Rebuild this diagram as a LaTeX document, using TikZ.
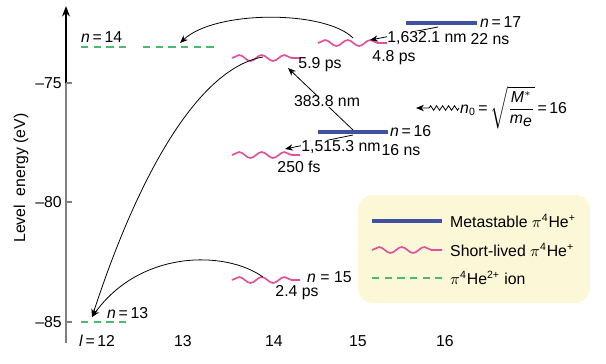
\documentclass[tikz,border=0pt]{standalone}
\usepackage{fontspec}
\setmainfont{Liberation Sans}
\usetikzlibrary{arrows.meta,decorations.pathmorphing}

\definecolor{metablue}{HTML}{3F51A0}
\definecolor{shortpink}{HTML}{E2509B}
\definecolor{iongreen}{HTML}{4DB870}
\definecolor{legendbg}{HTML}{FCF7D6}

\begin{document}
\begin{tikzpicture}[x=0.02cm, y=-0.02cm, font=\fontsize{9}{10}\selectfont,
    meta/.style = {metablue, line width=2.1pt},
    short/.style = {shortpink, line width=0.95pt, decorate,
        decoration={snake, segment length=12.9pt, amplitude=1.7pt}},
    ion/.style = {iongreen, line width=1.1pt, dash pattern=on 4.2pt off 3pt},
    trans/.style = {line width=0.45pt, -{Stealth[length=4.5pt, width=3.6pt]}},
    lbl/.style = {inner sep=0.5pt},
    nm/.style = {fill=white, inner sep=0.2pt}]

            \useasboundingbox (0,0) rectangle (606,363);

            % Axis
            \draw[gray, line width=0.6pt] (66,343) -- (66,83);
            \draw[line width=0.6pt, -{Stealth[length=6pt, width=4.5pt]}] (66,83) -- (66,6);
            \foreach \y/\e in {83/75, 202/80, 322/85} {
                \draw[gray, line width=0.6pt] (66,\y) -- (72,\y);
                \node[lbl, anchor=east] (t\e) at (63,\y) {--\e};
            }
            \node[rotate=90] (ylab) at (21,178) {Level\ \ energy (eV)};
            \node (l12) at (97,341) {\textit{l}\,=\,12};
            \node (l13) at (183,341) {13};
            \node (l14) at (274,341) {14};
            \node (l15) at (358,341) {15};
            \node (l16) at (445,341) {16};

            % Levels
            \draw[ion] (81,322) -- (126,322);
            \draw[ion] (81,47) -- (126,47);
            \draw[ion] (143,47) -- (215,47);
            \draw[short] (232,280) -- (300,280);
            \draw[short] (232,155) -- (300,155);
            \draw[short] (232,58) -- (300,58);
            \draw[short] (318,43) -- (388,43);
            \draw[meta] (318,132) -- (388,132);
            \draw[meta] (406,23) -- (477,23);

            % Level labels
            \node[lbl, anchor=west] (n13) at (106,313) {\textit{n}\,=\,13};
            \node[lbl, anchor=west] (n14) at (80,37) {\textit{n}\,=\,14};
            \node[lbl, anchor=west] (n15) at (306,277) {\textit{n} = 15};
            \node[lbl, anchor=west] (n16) at (389,131) {\textit{n}\,=\,16};
            \node[lbl, anchor=west] (n17) at (479,22) {\textit{n}\,=\,17};
            \node[lbl] (tau15) at (297,293) {2.4 ps};
            \node[lbl] (tau16a) at (299,167) {250 fs};
            \node[lbl] (tau16b) at (401,150) {16 ns};
            \node[lbl] (tau17a) at (320,65) {5.9 ps};
            \node[lbl] (tau17b) at (394,58) {4.8 ps};
            \node[lbl] (tau17c) at (490,39) {22 ns};

            % End points on the levels
            \coordinate (I13) at (92,317);
            \coordinate (I14) at (180,43);
            \coordinate (S15) at (263,277);
            \coordinate (S16) at (285,149);
            \coordinate (S17a) at (263,57);
            \coordinate (S17at) at (288,68);
            \coordinate (S17b) at (353,38);
            \coordinate (S17bt) at (370,40);
            \coordinate (M16) at (353,135);
            \coordinate (M16t) at (353,130);
            \coordinate (M17) at (438,27);
            \coordinate (N0) at (416,108);

            % Transitions
            \draw[trans] (S17b) .. controls (325,10) and (215,10) .. (I14);
            \draw[trans] (S17a) .. controls (200,68) and (140,170) .. (I13);
            \draw[trans] (S15) .. controls (225,250) and (140,250) .. (I13);
            \draw[trans] (M16t) -- (S17at);
            \draw[trans] (M16) -- (S16);
            \draw[trans] (M17) -- (S17bt);
            \node[nm] (w384) at (327,101) {383.8 nm};
            \node[nm] (w1515) at (341,147) {1,515.3 nm};
            \node[nm] (w1632) at (427,38) {1,632.1 nm};

            % n_0
            \node[lbl, anchor=west] (nzero) at (459,108)
                {\textit{n}\textsubscript{0}\,=\,$\sqrt{\displaystyle\frac{\textit{M}^{*}}{\textit{m}_{\textit{e}}}}$\,=\,16};
            \draw[line width=0.45pt, -{Stealth[length=4.5pt, width=3.6pt]}, decorate,
                decoration={zigzag, segment length=3.4pt, amplitude=1.3pt, post length=6pt}]
                (nzero.west) -- (N0);

            % Legend
            \fill[legendbg, rounded corners=8.5pt] (358,195) rectangle (590,303);
            \draw[meta] (372,221) -- (442,221);
            \draw[short] (372,250) -- (442,250);
            \draw[ion] (372,278) -- (442,278);
            \node[lbl, anchor=west] (legmeta) at (449,221) {Metastable $\pi$\textsuperscript{4}He\textsuperscript{+}};
            \node[lbl, anchor=west] (legshort) at (449,250) {Short-lived $\pi$\textsuperscript{4}He\textsuperscript{+}};
            \node[lbl, anchor=west] (legion) at (449,278) {$\pi$\textsuperscript{4}He\textsuperscript{2+} ion};
        \end{tikzpicture}
\end{document}
